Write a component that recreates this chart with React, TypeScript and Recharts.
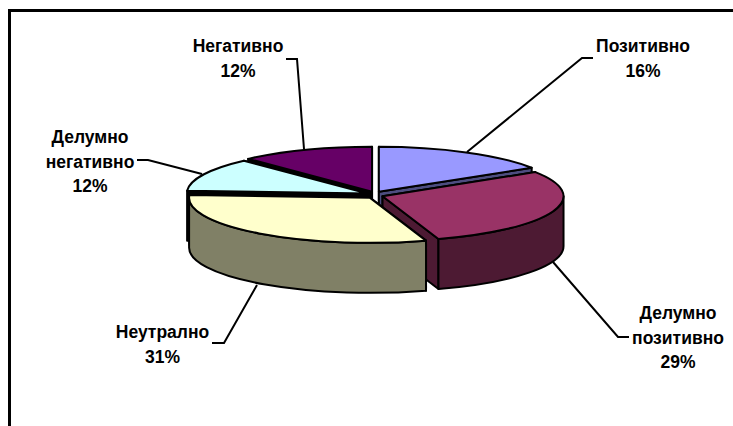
import React from 'react';
import { PieChart, Pie } from 'recharts';

const categories = ['Позитивно', 'Делумно позитивно', 'Неутрално', 'Делумно негативно', 'Негативно'];
const shares = [16, 29, 31, 12, 12];

const topColors = ['#9999FF', '#993366', '#FFFFCC', '#CCFFFF', '#660066'];
const wallColors = ['#4D4D80', '#4D1A33', '#808066', '#000000', '#000000'];

// painter's order, back of the pie first
const paintLayers = [
  ['Позитивно', 'Негативно'],
  ['Делумно негативно'],
  ['Делумно позитивно', 'Неутрално'],
];

const labelLines = [
  ['Позитивно'],
  ['Делумно', 'позитивно'],
  ['Неутрално'],
  ['Делумно', 'негативно'],
  ['Негативно'],
];
const labelCenters = [
  { x: 643, y: 46 },
  { x: 678, y: 313 },
  { x: 162.5, y: 332 },
  { x: 90, y: 137 },
  { x: 238, y: 46 },
];
const leaders = [
  [[593, 58], [582, 58], [467, 152]],
  [[629, 337], [618, 337], [553, 262]],
  [[212, 343], [224, 343], [257, 285]],
  [[137, 160], [148, 160], [202, 174]],
  [[286, 59], [297, 59], [304, 149]],
];

const chartData = categories.map((name, i) => ({ name, value: shares[i] }));

const TILT = 45 / 181;
const DEPTH = 50;
const EXPLODE_X = 8;
const EXPLODE_Y = 3.6;
const rad = (a: number) => (a * Math.PI) / 180;

const Slice = (props: any, layer: string[]) => {
  const { cx, cy, outerRadius: rx, startAngle, endAngle, name } = props;
  if (!layer.includes(name)) return <g />;
  const i = categories.indexOf(name);
  const ry = rx * TILT;
  const mid = (startAngle + endAngle) / 2;
  const ox = cx + EXPLODE_X * Math.cos(rad(mid));
  const oy = cy - EXPLODE_Y * Math.sin(rad(mid));
  const px = (a: number) => ox + rx * Math.cos(rad(a));
  const py = (a: number) => oy - ry * Math.sin(rad(a));
  const paint = {
    stroke: '#000',
    strokeWidth: 2,
    strokeLinejoin: 'round' as const,
  };
  const cut = (a: number) =>
    `M${ox},${oy} L${px(a)},${py(a)} L${px(a)},${py(a) + DEPTH} L${ox},${oy + DEPTH} Z`;

  // only the part of the rim on the lower half of the ellipse shows
  const from = Math.min(startAngle, 0);
  const to = Math.max(endAngle, -180);
  const rim =
    from > to
      ? `M${px(from)},${py(from)} A${rx},${ry} 0 0 1 ${px(to)},${py(to)} L${px(to)},${py(to) + DEPTH} A${rx},${ry} 0 0 0 ${px(from)},${py(from) + DEPTH} Z`
      : null;
  const top = `M${ox},${oy} L${px(startAngle)},${py(startAngle)} A${rx},${ry} 0 0 1 ${px(endAngle)},${py(endAngle)} Z`;

  return (
    <g>
      <path d={cut(startAngle)} fill={wallColors[i]} {...paint} />
      <path d={cut(endAngle)} fill={wallColors[i]} {...paint} />
      {rim && <path d={rim} fill={wallColors[i]} {...paint} />}
      <path d={top} fill={topColors[i]} {...paint} />
    </g>
  );
};

const SliceLabel = (props: any) => {
  const { index, percent } = props;
  const c = labelCenters[index];
  const rows = [...labelLines[index], `${Math.round(percent * 100)}%`];
  return (
    <text
      textAnchor="middle"
      fontFamily="'Liberation Sans', Arial, sans-serif"
      fontWeight="bold"
      fontSize={17.5}
      fill="#000"
    >
      {rows.map((row, r) => (
        <tspan key={r} x={c.x} y={c.y + r * 24.4} dy="0.35em">
          {row}
        </tspan>
      ))}
    </text>
  );
};

const LeaderLine = (props: any) => (
  <polyline
    points={leaders[props.index].map((p) => p.join(',')).join(' ')}
    fill="none"
    stroke="#000"
    strokeWidth={2}
  />
);

const App = () => (
  <div style={{ position: 'absolute', left: 0, top: 0, width: 733, height: 426, overflow: 'hidden', background: '#fff' }}>
    <div
      style={{
        position: 'absolute',
        left: 8,
        top: 9,
        right: 0,
        bottom: 0,
        borderTop: '3px solid #000',
        borderLeft: '3px solid #000',
      }}
    />
    <div style={{ position: 'absolute', left: 0, top: 0 }}>
      <PieChart width={733} height={426} margin={{ top: 0, right: 0, bottom: 0, left: 0 }}>
        {paintLayers.map((layer, n) => {
          const isLast = n === paintLayers.length - 1;
          return (
            <Pie
              key={n}
              data={chartData}
              dataKey="value"
              nameKey="name"
              cx={375}
              cy={195}
              innerRadius={0}
              outerRadius={181}
              startAngle={90}
              endAngle={-270}
              isAnimationActive={false}
              shape={(p: any) => Slice(p, layer)}
              label={isLast ? SliceLabel : false}
              labelLine={isLast ? LeaderLine : false}
              rootTabIndex={-1}
            />
          );
        })}
      </PieChart>
    </div>
  </div>
);

export default App;
